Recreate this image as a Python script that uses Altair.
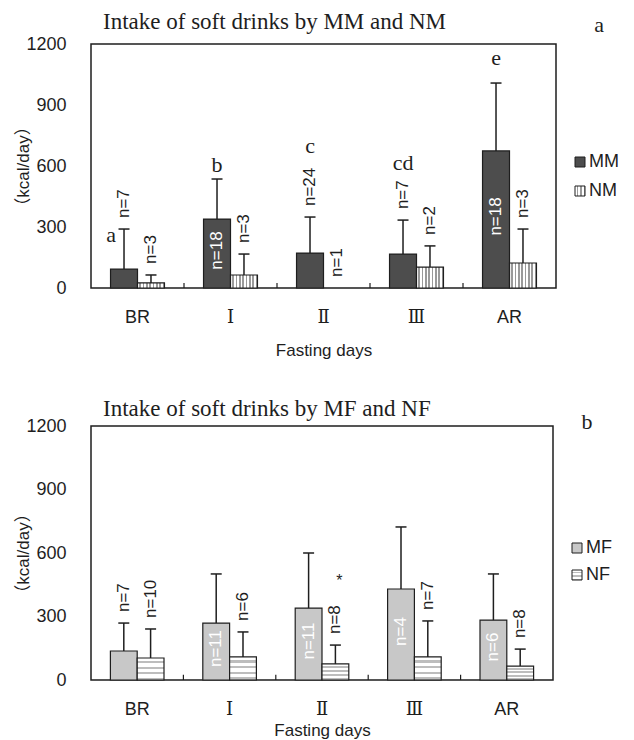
import altair as alt
import pandas as pd

# ---------------- data ----------------
days = ["BR", "Ⅰ", "Ⅱ", "Ⅲ", "AR"]

# panel a : MM and NM
mm_mean = [93, 339, 172, 167, 674]
mm_sd = [197, 197, 177, 167, 334]
mm_n = [7, 18, 24, 7, 18]
mm_label_inside = [False, True, False, False, True]
nm_mean = [25, 64, 0, 103, 123]
nm_sd = [39, 103, 0, 104, 167]
nm_n = [3, 3, 1, 2, 3]
mm_letters = ["a", "b", "c", "cd", "e"]
mm_letter_y = [226, 570, 664, 580, 1097]

# panel b : MF and NF
mf_mean = [137, 269, 340, 430, 283]
mf_sd = [132, 232, 260, 293, 218]
mf_n = [7, 11, 11, 4, 6]
mf_label_inside = [False, True, True, True, True]
nf_mean = [104, 109, 76, 109, 66]
nf_sd = [137, 118, 89, 170, 80]
nf_n = [10, 6, 8, 7, 8]
star_days = ["Ⅱ"]
star_y = [468]

y_ticks = [0, 300, 600, 900, 1200]

INK = "#1e1e1e"
SERIF = "Liberation Serif"
SANS = "Liberation Sans"
P_INNER, P_OUTER = 0.42, 0.21
INDEP = dict(x="independent", y="independent", xOffset="independent")


def stripes(n, color, frac, vertical):
    stops = []
    for i in range(n):
        a = i / n
        w_end = round(a + (1 - frac) / n, 4)
        c = round((i + 1) / n, 4)
        stops += [
            {"offset": round(a, 4), "color": "#ffffff"},
            {"offset": w_end, "color": "#ffffff"},
            {"offset": w_end, "color": color},
            {"offset": c, "color": color},
        ]
    g = {"gradient": "linear", "stops": stops}
    if vertical:
        g.update({"x1": 0, "y1": 0, "x2": 1, "y2": 0})
    else:
        g.update({"x1": 0, "y1": 0, "x2": 0, "y2": 1})
    return g


def make_row(title, title_offset, tag, tag_dx, tag_offset, g1, g2, m1, s1, n1, in1, m2, s2, n2,
             fill1, fill2, fill2_leg, W, H, letters, letter_y, stars, stars_y,
             xtitle_pad, leg_range):
    rows = []
    for i, d in enumerate(days):
        rows.append(dict(day=d, grp=g1, mean=m1[i], sd=s1[i], top=m1[i] + s1[i],
                         mid=m1[i] / 2, lab=f"n={n1[i]}", inside=in1[i]))
        rows.append(dict(day=d, grp=g2, mean=m2[i], sd=s2[i], top=m2[i] + s2[i],
                         mid=m2[i] / 2, lab=f"n={n2[i]}", inside=False))
    df = pd.DataFrame(rows)

    step = W / (len(days) - P_INNER + 2 * P_OUTER)
    xscale = alt.Scale(domain=days, paddingInner=P_INNER, paddingOuter=P_OUTER)
    xo = alt.XOffset("grp:N", scale=alt.Scale(domain=[g1, g2], paddingInner=0, paddingOuter=0))
    yscale = alt.Scale(domain=[0, 1200], nice=False)
    yaxis = alt.Axis(values=y_ticks, format="d", ticks=False, tickSize=0, domain=False, grid=False,
                     title="（kcal/day）", labelPadding=25, titleX=-68, titleY=H / 2,
                     titleAngle=270, titleAlign="center", titleBaseline="middle",
                     titleFont="Liberation Sans, Noto Sans CJK JP")
    xaxis = alt.Axis(title="Fasting days", labelAngle=0, ticks=False, tickSize=0,
                     domain=False, grid=False, labelPadding=20, titlePadding=xtitle_pad)

    def X(axis, **kw):
        return alt.X("day:N", sort=days, scale=xscale, axis=axis, **kw)

    def Y(field):
        return alt.Y(field, scale=yscale, axis=yaxis)

    base = alt.Chart(df)
    bars1 = base.transform_filter(alt.datum.grp == g1).mark_bar(
        fill=fill1, stroke=INK, strokeWidth=1.2).encode(x=X(xaxis), xOffset=xo, y=Y("mean:Q"))
    bars2 = base.transform_filter((alt.datum.grp == g2) & (alt.datum.mean > 0)).mark_bar(
        fill=fill2, stroke=INK, strokeWidth=1.2).encode(x=X(xaxis), xOffset=xo, y=Y("mean:Q"))
    err = base.transform_filter(alt.datum.sd > 0).mark_rule(
        color=INK, strokeWidth=1.5).encode(x=X(xaxis), xOffset=xo, y=Y("mean:Q"), y2="top:Q")
    caps = base.transform_filter(alt.datum.sd > 0).mark_tick(
        orient="horizontal", size=11, thickness=1.5, color=INK, opacity=1).encode(
        x=X(xaxis), xOffset=xo, y=Y("top:Q"))
    lab_out = base.transform_filter("!datum.inside").mark_text(
        angle=270, align="left", baseline="middle", dx=11, fontSize=17, font=SANS,
        color=INK).encode(x=X(xaxis), xOffset=xo, y=Y("top:Q"), text="lab:N")
    lab_in = base.transform_filter("datum.inside").mark_text(
        angle=270, align="center", baseline="middle", dx=3, fontSize=17, font=SANS,
        color="#ffffff").encode(x=X(xaxis), xOffset=xo, y=Y("mid:Q"), text="lab:N")

    # small inward ticks on the category axis, at the boundaries between days
    bdf = pd.DataFrame({"day": days[1:], "lo": [0] * (len(days) - 1), "hi": [25] * (len(days) - 1)})
    bounds_ticks = alt.Chart(bdf).mark_rule(
        color=INK, strokeWidth=1.2, xOffset=-(P_INNER / 2) * step).encode(
        x=X(xaxis, bandPosition=0), y=Y("lo:Q"), y2="hi:Q")

    layers = [bars1, bars2, err, caps, lab_out, lab_in, bounds_ticks]

    if letters:
        ldf = pd.DataFrame({"day": days, "grp": [g1] * len(days), "letter": letters, "ly": letter_y})
        lbase = alt.Chart(ldf)
        let_a = lbase.transform_filter(alt.datum.letter == "a").mark_text(
            font=SERIF, fontSize=22, baseline="alphabetic", align="center", dx=-13,
            color=INK).encode(x=X(xaxis), xOffset=xo, y=Y("ly:Q"), text="letter:N")
        let_o = lbase.transform_filter(alt.datum.letter != "a").mark_text(
            font=SERIF, fontSize=22, baseline="alphabetic", align="center",
            color=INK).encode(x=X(xaxis), xOffset=xo, y=Y("ly:Q"), text="letter:N")
        layers += [let_a, let_o]
    if stars:
        sdf = pd.DataFrame({"day": stars, "grp": [g2] * len(stars), "sy": stars_y, "t": ["*"] * len(stars)})
        st = alt.Chart(sdf).mark_text(font=SANS, fontSize=16, baseline="middle", align="center",
                                      dx=4, color=INK).encode(
            x=X(xaxis), xOffset=xo, y=Y("sy:Q"), text="t:N")
        layers.append(st)

    main = alt.layer(*layers).properties(
        width=W, height=H,
        title=alt.TitleParams(title, anchor="start", dx=12, offset=title_offset, baseline="alphabetic",
                              frame="group", font=SERIF, fontSize=23, fontWeight="normal",
                              color=INK))

    leg_df = pd.DataFrame({"grp": [g1, g2]})
    ly = alt.Y("grp:N", scale=alt.Scale(domain=[g1, g2], range=leg_range, padding=0), axis=None)
    lb = alt.Chart(leg_df)
    sq1 = lb.transform_filter(alt.datum.grp == g1).mark_square(
        size=100, fill=fill1, stroke=INK, strokeWidth=1, opacity=1).encode(x=alt.value(14), y=ly)
    sq2 = lb.transform_filter(alt.datum.grp == g2).mark_square(
        size=100, fill=fill2_leg, stroke=INK, strokeWidth=1, opacity=1).encode(x=alt.value(14), y=ly)
    lt = lb.mark_text(align="left", baseline="middle", fontSize=18, font=SANS, color=INK).encode(
        x=alt.value(23), y=ly, text="grp:N")
    legend = alt.layer(sq1, sq2, lt).properties(
        width=60, height=H, view=alt.ViewBackground(stroke=None),
        title=alt.TitleParams(tag, anchor="middle", dx=tag_dx, offset=tag_offset,
                              baseline="alphabetic", frame="group", font=SERIF,
                              fontSize=22, fontWeight="normal", color=INK))
    return alt.hconcat(main, legend, spacing=10, bounds="flush").resolve_scale(**INDEP)


row_a = make_row("Intake of soft drinks by MM and NM", -17, "a", 3, -10, "MM", "NM",
                 mm_mean, mm_sd, mm_n, mm_label_inside, nm_mean, nm_sd, nm_n,
                 "#4d4d4d", stripes(8, "#9a9a9a", 0.5, True), stripes(3, "#9a9a9a", 0.4, True),
                 465, 244, mm_letters, mm_letter_y, None, None, 16, [118, 147])
row_b = make_row("Intake of soft drinks by MF and NF", -22, "b", -6, -25, "MF", "NF",
                 mf_mean, mf_sd, mf_n, mf_label_inside, nf_mean, nf_sd, nf_n,
                 "#c8c8c8", stripes(4, "#bdbdbd", 0.45, False), stripes(3, "#bdbdbd", 0.4, False),
                 462, 254, None, None, star_days, star_y, 4, [122, 149])

chart = alt.vconcat(row_a, row_b, spacing=38).resolve_scale(**INDEP).properties(
    padding={"left": 13, "top": 10, "right": 0, "bottom": 0},
    background="white",
).configure_view(stroke=INK, strokeWidth=1.5).configure_axis(
    labelFont=SANS + ", DejaVu Serif", labelFontSize=18, labelColor=INK,
    titleFont=SANS, titleFontSize=17, titleFontWeight="normal", titleColor=INK,
)

chart.save("out.html", embed_options={"renderer": "svg", "actions": False})
